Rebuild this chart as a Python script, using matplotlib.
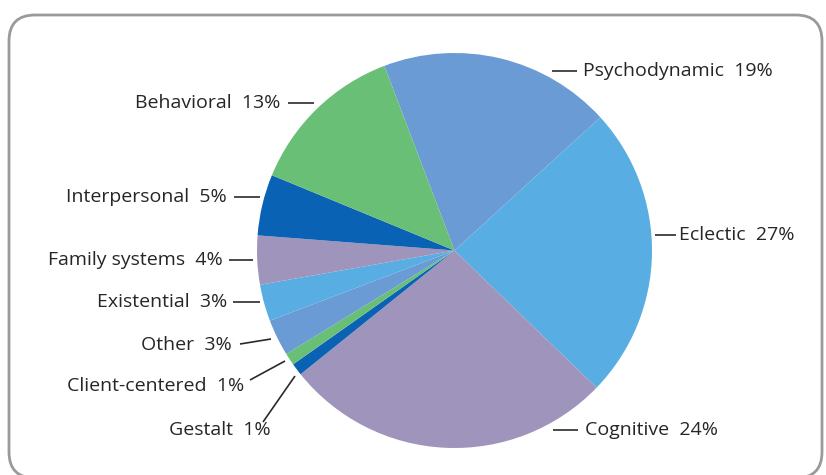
import matplotlib
matplotlib.use("Agg")
import matplotlib.pyplot as plt
from matplotlib.patches import FancyBboxPatch

# ---- data (drawn slice sizes; printed labels as in the picture)
categories = ["Psychodynamic", "Eclectic", "Cognitive", "Gestalt", "Client-centered",
              "Other", "Existential", "Family systems", "Interpersonal", "Behavioral"]
shares = [19, 24, 27, 1, 1, 3, 3, 4, 5, 13]
printed_pct = [19, 27, 24, 1, 1, 3, 3, 4, 5, 13]

colors = ["#6a9bd4", "#58aee2", "#9f94bc", "#0a62b4", "#6abf77",
          "#6a9bd4", "#58aee2", "#9f94bc", "#0a62b4", "#6abf77"]

W, H = 826, 475
fig = plt.figure(figsize=(W / 100, H / 100), dpi=100)
ax = fig.add_axes([0, 0, 1, 1])

def P(x, y):
    """pixel (top-left origin) -> data coords (y up)"""
    return x, H - y

cx, cy = P(454.5, 250.5)
ax.pie(shares, colors=colors, startangle=110.8, counterclock=False,
       radius=197.5, center=(cx, cy), frame=True,
       wedgeprops=dict(linewidth=0, antialiased=True))

ax.set_xlim(0, W)
ax.set_ylim(0, H)
ax.set_aspect("equal")
ax.axis("off")

# rounded frame
frame = FancyBboxPatch(P(9, 478), 813, 463,
                       boxstyle="round,pad=0,rounding_size=26",
                       fill=False, edgecolor="#9a9a9a", linewidth=2.0,
                       transform=ax.transData, clip_on=False, zorder=0)
ax.add_patch(frame)

# label layout: (text x, text y, ha, line start, line end)  in pixel coords
layout = {
    "Psychodynamic":   (583, 71, "left",  (552, 71), (577, 71)),
    "Eclectic":        (679, 235, "left", (655, 235), (676, 235)),
    "Cognitive":       (585, 430, "left", (553, 430), (578, 430)),
    "Gestalt":         (169, 430, "left", (263, 422), (295, 376)),
    "Client-centered": (244, 386, "right", (250, 380), (285, 361)),
    "Other":           (232, 345, "right", (240, 344), (271, 339)),
    "Existential":     (227, 302, "right", (233, 302), (260, 302)),
    "Family systems":  (223, 260, "right", (229, 260), (253, 260)),
    "Interpersonal":   (227, 197, "right", (234, 197), (260, 197)),
    "Behavioral":      (280, 103, "right", (288, 103), (314, 103)),
}

font = ["Open Sans", "DejaVu Sans"]
for name, pct in zip(categories, printed_pct):
    tx, ty, ha, p0, p1 = layout[name]
    x0, y0 = P(*p0)
    x1, y1 = P(*p1)
    ax.plot([x0, x1], [y0, y1], color="#2a2a2a", linewidth=1.2,
            solid_capstyle="butt", zorder=3)
    ax.text(*P(tx, ty), f"{name}  {pct}%", ha=ha, va="center",
            fontsize=14, family=font, color="#262626", zorder=4)

fig.savefig("out.png", dpi=100)
